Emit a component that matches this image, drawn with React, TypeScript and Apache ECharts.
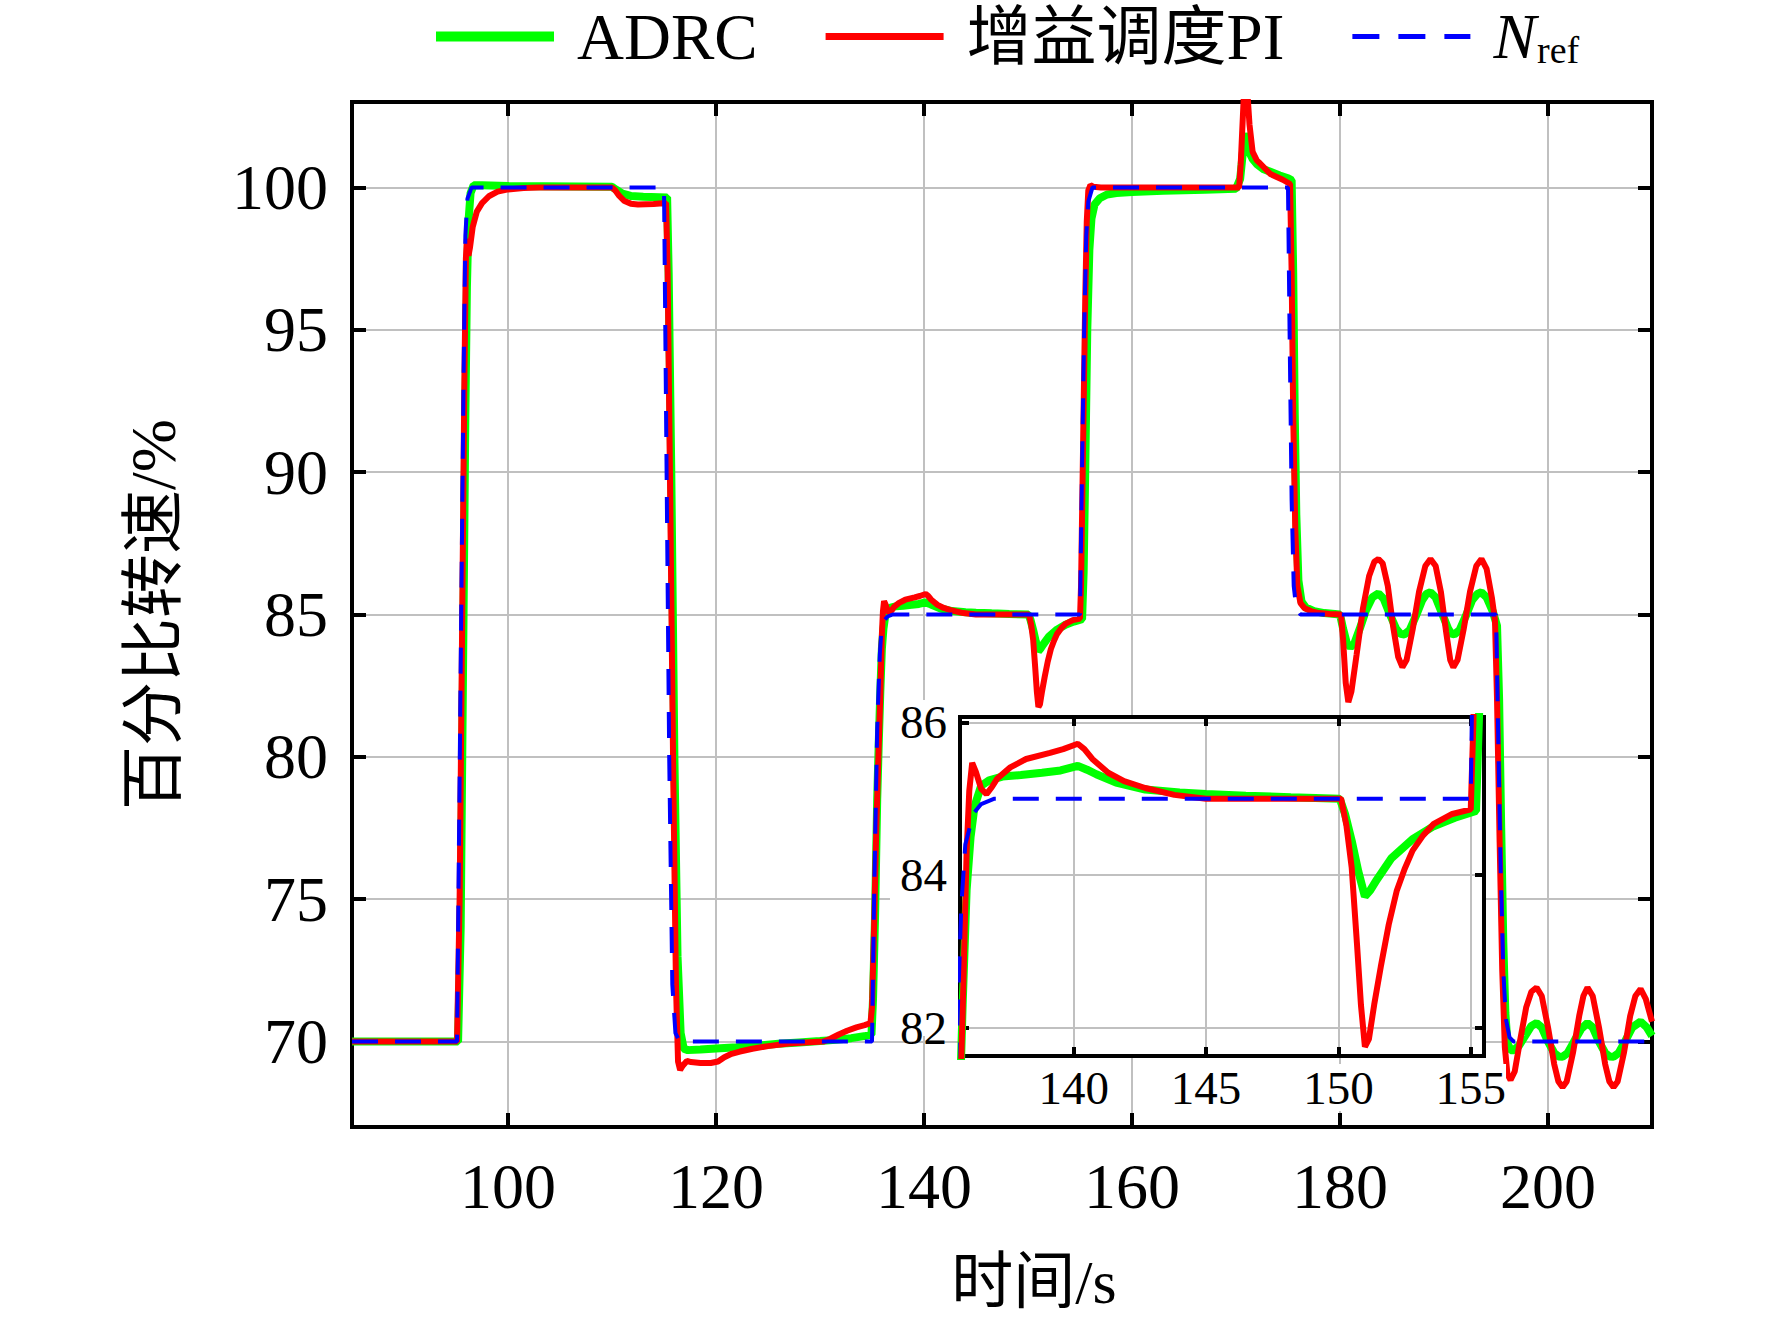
import React, { useEffect, useRef } from "react";
import * as echarts from "echarts";

const FONT = "'Liberation Serif','Times New Roman','Noto Sans CJK SC',serif";

const seriesNames = ["ADRC", "增益调度PI", "N_ref"];
const xMainTicks = [100, 120, 140, 160, 180, 200];
const yMainTicks = [70, 75, 80, 85, 90, 95, 100];
const xInsetTicks = [140, 145, 150, 155];
const yInsetTicks = [82, 84, 86];

const nrefData: [number, number][] = [
  [85, 70], [95.1, 70], [95.5, 85], [95.75, 94], [95.9, 98.3], [96.1, 99.6], [96.5, 100],
  [115.0, 100], [115.2, 92], [115.5, 80], [115.8, 72], [116.1, 70.3], [116.5, 70],
  [135.0, 70], [135.2, 75], [135.5, 81], [135.75, 83.6], [135.9, 84.4], [136.2, 84.8], [136.5, 84.93], [137, 85],
  [155.0, 85], [155.15, 89], [155.4, 95], [155.6, 98.3], [155.8, 99.5], [156.2, 100],
  [175.0, 100], [175.15, 95], [175.35, 89], [175.55, 86], [175.8, 85.2], [176.2, 85],
  [195.0, 85], [195.2, 81], [195.45, 76], [195.7, 72.5], [195.95, 70.8], [196.3, 70.15], [196.7, 70], [210, 70],
];

const adrcData: [number, number][] = [
  [85, 70], [95.2, 70], [95.45, 74], [95.7, 84], [95.9, 92], [96.05, 96.5], [96.2, 98.8], [96.4, 99.8], [96.7, 100.08],
  [97.5, 100.08], [100, 100.05], [110, 100.02], [110.4, 99.92], [111, 99.78], [111.8, 99.7], [113, 99.67], [115.3, 99.65],
  [115.45, 97], [115.7, 90], [116, 80], [116.3, 73], [116.6, 70.3], [116.9, 69.75], [117.3, 69.7], [118.5, 69.72],
  [120, 69.76], [122, 69.8], [124, 69.86], [126, 69.92], [128, 69.97], [130, 70.02], [131.5, 70.06], [133, 70.12],
  [134.4, 70.2], [134.95, 70.25], [135.1, 71.5], [135.3, 74.5], [135.5, 78.5], [135.65, 80.5], [135.8, 82.3],
  [135.95, 83.8], [136.1, 84.5], [136.25, 84.9], [136.5, 85.17], [136.8, 85.24], [137.3, 85.29], [138.0, 85.31],
  [138.8, 85.34], [139.5, 85.37], [140.15, 85.43], [140.5, 85.38], [140.85, 85.32], [141.6, 85.21], [142.7, 85.12],
  [144, 85.08], [145, 85.06], [146.5, 85.04], [148.2, 85.02], [150.05, 85.0], [150.25, 84.8], [150.5, 84.45],
  [150.75, 84.05], [151.0, 83.72], [151.2, 83.8], [151.45, 83.94], [152, 84.22], [152.8, 84.47], [153.6, 84.64],
  [154.4, 84.75], [155.2, 84.84], [155.35, 86.5], [155.5, 90], [155.7, 95], [155.9, 97.8], [156.1, 98.9], [156.4, 99.4],
  [156.9, 99.62], [157.6, 99.75], [158.5, 99.8], [160, 99.84], [163, 99.88], [167, 99.92], [170, 99.95], [170.4, 100.3],
  [170.65, 101.2], [170.9, 101.9], [171.2, 101.3], [171.6, 101.0], [172, 100.82], [172.6, 100.65], [173.3, 100.55],
  [174.2, 100.42], [175.0, 100.32], [175.35, 100.25], [175.5, 97], [175.65, 92], [175.8, 88.5], [176.0, 86.2],
  [176.3, 85.45], [176.7, 85.25], [177.5, 85.12], [178.5, 85.05], [180.0, 85.0], [180.3, 84.5], [180.65, 84.0],
  [181.0, 83.85], [181.4, 84.0], [181.9, 84.5], [182.5, 85.15], [183.1, 85.6], [183.7, 85.74], [184.2, 85.55],
  [184.8, 85.0], [185.4, 84.5], [185.8, 84.32], [186.2, 84.3], [186.7, 84.45], [187.3, 84.95], [187.9, 85.5],
  [188.3, 85.72], [188.7, 85.78], [189.2, 85.6], [189.8, 85.05], [190.4, 84.5], [190.7, 84.33], [191.0, 84.3],
  [191.5, 84.45], [192.1, 84.95], [192.7, 85.5], [193.2, 85.72], [193.6, 85.78], [194.1, 85.6], [194.7, 85.1],
  [195.1, 84.6], [195.3, 82], [195.5, 77.5], [195.7, 73.5], [195.9, 71], [196.1, 69.95], [196.4, 69.7], [196.7, 69.7],
  [197.2, 69.85], [197.8, 70.2], [198.4, 70.55], [198.9, 70.65], [199.4, 70.5], [200.0, 70.0], [200.6, 69.6],
  [201.0, 69.48], [201.4, 69.47], [201.9, 69.6], [202.5, 70.0], [203.2, 70.45], [203.8, 70.65], [204.3, 70.5],
  [204.9, 70.0], [205.5, 69.6], [205.9, 69.48], [206.3, 69.47], [206.8, 69.6], [207.4, 70.0], [208.1, 70.5],
  [208.9, 70.7], [209.5, 70.5], [210, 70.2],
];

const piData: [number, number][] = [
  [85, 70], [95.1, 70], [95.35, 75], [95.6, 85], [95.8, 93], [95.95, 97.5], [96.05, 98.2], [96.2, 97.6], [96.35, 97.9],
  [96.6, 98.6], [97, 99.15], [97.5, 99.45], [98.2, 99.7], [99, 99.85], [100, 99.93], [101.5, 99.98], [103, 100],
  [110, 100], [110.3, 99.9], [110.7, 99.7], [111.2, 99.52], [111.8, 99.43], [112.5, 99.4], [114, 99.42], [115.2, 99.45],
  [115.35, 97], [115.6, 89], [115.9, 79], [116.15, 72], [116.35, 69.3], [116.55, 69.0], [116.8, 69.15], [117.2, 69.32],
  [117.6, 69.28], [118.5, 69.25], [119.5, 69.25], [120.2, 69.3], [120.8, 69.45], [121.5, 69.57], [122.3, 69.65],
  [123.5, 69.75], [125, 69.84], [127, 69.93], [129, 69.98], [130.3, 70.0], [131, 70.1], [131.8, 70.25], [132.6, 70.38],
  [133.5, 70.5], [134.3, 70.58], [134.85, 70.65], [135.0, 71.2], [135.2, 74], [135.4, 77.3], [135.6, 79.8],
  [135.8, 82.2], [135.95, 84.3], [136.05, 85.1], [136.16, 85.47], [136.3, 85.35], [136.5, 85.13], [136.7, 85.06],
  [136.9, 85.15], [137.1, 85.26], [137.6, 85.41], [138.2, 85.52], [139.1, 85.6], [139.6, 85.65], [140.15, 85.72],
  [140.4, 85.65], [140.7, 85.52], [141.3, 85.34], [141.9, 85.23], [142.7, 85.14], [143.8, 85.05], [145, 85.0],
  [150.1, 85.0], [150.3, 84.65], [150.5, 84.1], [150.7, 83.1], [150.85, 82.3], [151.0, 81.75], [151.15, 81.85],
  [151.35, 82.3], [151.6, 82.8], [151.9, 83.35], [152.2, 83.79], [152.5, 84.08], [152.8, 84.32], [153.2, 84.52],
  [153.6, 84.67], [154.3, 84.8], [155.0, 84.86], [155.1, 86], [155.3, 91], [155.5, 96], [155.65, 98.8], [155.8, 99.9],
  [156, 100.08], [156.3, 100.02], [157, 100], [170.3, 100], [170.45, 100.8], [170.6, 102], [170.75, 103.2], [170.9, 103.6],
  [171.1, 103.3], [171.3, 102.2], [171.6, 101.25], [172.0, 100.95], [172.3, 100.85], [173.3, 100.47], [174.5, 100.27],
  [175.2, 100.12], [175.35, 97], [175.5, 92], [175.7, 88], [175.9, 86], [176.2, 85.4], [176.6, 85.22], [177.2, 85.12],
  [178, 85.05], [179, 85.02], [180.1, 85.0], [180.3, 84.1], [180.55, 82.6], [180.8, 81.92], [181.1, 82.3],
  [181.6, 83.6], [182.2, 85.2], [182.8, 86.35], [183.3, 86.85], [183.7, 86.95], [184.1, 86.8], [184.6, 86.0],
  [185.1, 84.6], [185.6, 83.5], [186.0, 83.15], [186.4, 83.4], [187.0, 84.5], [187.6, 85.8], [188.2, 86.7],
  [188.7, 86.95], [189.2, 86.7], [189.7, 85.8], [190.2, 84.4], [190.6, 83.4], [190.9, 83.15], [191.3, 83.4],
  [191.9, 84.5], [192.5, 85.8], [193.1, 86.7], [193.6, 86.95], [194.1, 86.6], [194.6, 85.6], [194.9, 84.8],
  [195.1, 82], [195.35, 77], [195.6, 72.5], [195.85, 69.8], [196.1, 68.85], [196.4, 68.65], [196.8, 68.95],
  [197.3, 70.0], [197.9, 71.2], [198.4, 71.75], [198.9, 71.9], [199.4, 71.6], [200.0, 70.5], [200.6, 69.2],
  [201.0, 68.6], [201.4, 68.4], [201.8, 68.6], [202.4, 69.6], [203.0, 70.9], [203.4, 71.6], [203.8, 71.9],
  [204.3, 71.6], [204.9, 70.5], [205.5, 69.2], [205.9, 68.6], [206.3, 68.4], [206.7, 68.6], [207.3, 69.6],
  [207.9, 70.9], [208.4, 71.6], [208.9, 71.85], [209.4, 71.5], [210, 70.7],
];

const GREEN = "#00ff00";
const RED = "#ff0000";
const BLUE = "#0000ff";
const GRIDLINE = "#c0c0c0";

// legend icon shapes (solid bars and a three-dash bar)
const ICON_GREEN = "path://M0,0h118v10h-118z";
const ICON_RED = "path://M0,0h118v7h-118z";
const ICON_BLUE = "path://M0,0h27v5h-27z M46,0h27v5h-27z M92,0h26v5h-26z";

function buildOption() {
  const mkX = (grid: number, pos: "bottom" | "top", min: number, max: number, split: number, ticks: number[], main: boolean) => ({
    type: "value",
    gridIndex: grid,
    position: pos,
    min,
    max,
    splitNumber: split,
    z: main ? 0 : 11,
    axisLine: { show: false },
    axisTick: { show: true, inside: true, length: main ? 14 : 9, customValues: ticks, lineStyle: { color: "#000", width: 4 } },
    axisLabel: {
      show: pos === "bottom",
      customValues: ticks,
      fontFamily: FONT,
      fontSize: main ? 64 : 47,
      color: "#000",
      margin: main ? 27 : 8,
      backgroundColor: main ? "transparent" : "#fff",
    },
    splitLine: { show: pos === "bottom", lineStyle: { color: GRIDLINE, width: 2 } },
  });
  const mkY = (grid: number, pos: "left" | "right", min: number, max: number, split: number, ticks: number[], main: boolean) => ({
    type: "value",
    gridIndex: grid,
    position: pos,
    min,
    max,
    splitNumber: split,
    z: main ? 0 : 11,
    axisLine: { show: false },
    axisTick: { show: true, inside: true, length: main ? 14 : 9, customValues: ticks, lineStyle: { color: "#000", width: 4 } },
    axisLabel: {
      show: pos === "left",
      customValues: ticks,
      fontFamily: FONT,
      fontSize: main ? 64 : 47,
      color: "#000",
      margin: main ? 24 : 13,
    },
    splitLine: { show: pos === "left", lineStyle: { color: GRIDLINE, width: 2 } },
  });

  const xMain = {
    ...mkX(0, "bottom", 85, 210, 6, xMainTicks, true),
    name: "时间/s",
    nameLocation: "middle",
    nameGap: 124,
    nameTextStyle: { fontFamily: FONT, fontSize: 62, color: "#000", padding: [0, 0, 0, 64] },
  };
  const yMain = {
    ...mkY(0, "left", 67, 103, 7, yMainTicks, true),
    name: "百分比转速/%",
    nameLocation: "middle",
    nameGap: 167,
    nameTextStyle: { fontFamily: FONT, fontSize: 64, color: "#000" },
  };

  const lineSeries = (name: string, data: [number, number][], color: string, width: number, dashed: boolean, xi: number, yi: number, z: number) => ({
    type: "line",
    name,
    data,
    xAxisIndex: xi,
    yAxisIndex: yi,
    showSymbol: false,
    symbol: "none",
    clip: true,
    z,
    itemStyle: { color },
    lineStyle: { color, width, type: dashed ? [26, 17] : "solid" },
    emphasis: { disabled: true },
  });

  return {
    animation: false,
    backgroundColor: "#fff",
    textStyle: { fontFamily: FONT },
    legend: {
      data: [
        { name: seriesNames[0], icon: ICON_GREEN },
        { name: seriesNames[1], icon: ICON_RED },
        { name: seriesNames[2], icon: ICON_BLUE },
      ],
      left: 431,
      top: -4,
      itemWidth: 118,
      itemHeight: 24,
      itemGap: 68,
      symbolKeepAspect: true,
      selectedMode: false,
      itemStyle: { borderWidth: 0 },
      formatter: (name: string) =>
        name === "N_ref" ? "{g|}{i|N}{s|ref}" : "{g|}{t|" + name + "}",
      textStyle: {
        fontFamily: FONT,
        fontSize: 65,
        color: "#000",
        rich: {
          g: { width: 18 },
          t: { fontFamily: FONT, fontSize: 65, color: "#000" },
          i: { fontFamily: FONT, fontSize: 64, fontStyle: "italic", color: "#000", lineHeight: 64, verticalAlign: "top" },
          s: { fontFamily: FONT, fontSize: 38, color: "#000", lineHeight: 38, verticalAlign: "bottom", padding: [30, 0, 0, 1] },
        },
      },
    },
    grid: [
      { left: 352, top: 102, width: 1300, height: 1025, show: true, borderColor: "#000", borderWidth: 4, backgroundColor: "transparent", z: 1 },
      { left: 960, top: 717, width: 524, height: 339, show: true, borderColor: "#000", borderWidth: 4, backgroundColor: "#fff", z: 10 },
    ],
    xAxis: [
      xMain,
      mkX(1, "bottom", 135.7, 155.5, 4, xInsetTicks, false),
      mkX(0, "top", 85, 210, 6, xMainTicks, true),
      mkX(1, "top", 135.7, 155.5, 4, xInsetTicks, false),
    ],
    yAxis: [
      yMain,
      mkY(1, "left", 81.63, 86.07, 2, yInsetTicks, false),
      mkY(0, "right", 67, 103, 7, yMainTicks, true),
      mkY(1, "right", 81.63, 86.07, 2, yInsetTicks, false),
    ],
    graphic: [
      { type: "rect", z: 5, silent: true, shape: { x: 890, y: 700, width: 68, height: 336 }, style: { fill: "#fff" } },
    ],
    series: [
      lineSeries("ADRC", adrcData, GREEN, 8, false, 0, 0, 2),
      lineSeries("增益调度PI", piData, RED, 6, false, 0, 0, 3),
      lineSeries("N_ref", nrefData, BLUE, 4, true, 0, 0, 4),
      lineSeries("ADRC", adrcData, GREEN, 8, false, 1, 1, 12),
      lineSeries("增益调度PI", piData, RED, 6, false, 1, 1, 13),
      lineSeries("N_ref", nrefData, BLUE, 4, true, 1, 1, 14),
    ],
  };
}

export default function App() {
  const ref = useRef<HTMLDivElement>(null);
  useEffect(() => {
    if (!ref.current) return;
    const chart = echarts.init(ref.current, undefined, { renderer: "svg" });
    chart.setOption(buildOption() as any);
    return () => chart.dispose();
  }, []);
  return (
    <div
      ref={ref}
      style={{ position: "absolute", left: 0, top: 0, width: 1772, height: 1329, background: "#fff" }}
    />
  );
}
